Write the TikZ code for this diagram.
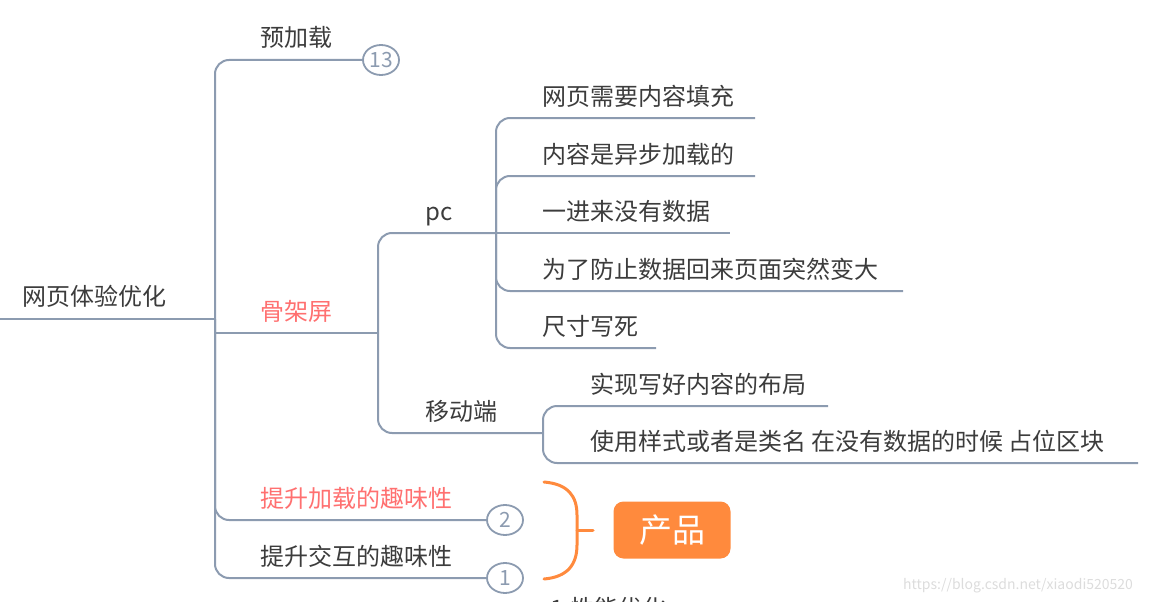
\documentclass[tikz,border=0pt]{standalone}
\usepackage{fontspec}
\setmainfont{Noto Sans CJK SC}
\usetikzlibrary{shapes.geometric, positioning, calc}
\definecolor{branchline}{RGB}{140, 155, 176}
\definecolor{topictext}{RGB}{60, 60, 60}
\definecolor{accentred}{RGB}{255, 112, 112}
\definecolor{productorange}{RGB}{255, 138, 61}
\definecolor{markgray}{RGB}{220, 220, 220}

\begin{document}
\begin{tikzpicture}[
    x=1pt, y=-1pt,
    topic/.style={inner sep=0pt, anchor=base west, text=topictext, font=\fontsize{24}{28}\selectfont},
    hot/.style={topic, text=accentred},
    branch/.style={draw=branchline, line width=2pt, rounded corners=14pt},
    count/.style={ellipse, draw=branchline, line width=1.8pt, fill=white, minimum width=36pt, minimum height=30pt, inner sep=0pt, text=branchline, font=\fontsize{21}{24}\selectfont},
    product/.style={rectangle, rounded corners=10pt, fill=productorange, text=white, minimum width=117pt, minimum height=57pt, font=\fontsize{33}{36}\selectfont}
]
    \clip (0,0) rectangle (1154,602);

    % junctions and free line ends
    \coordinate (rootL) at (0,319);
    \coordinate (j0) at (215,319);
    \coordinate (jgj) at (378,333);
    \coordinate (jpc) at (496,233);
    \coordinate (jyd) at (543,433);
    \coordinate (e1) at (755,118);
    \coordinate (e2) at (755,176);
    \coordinate (e3) at (730,233);
    \coordinate (e4) at (903,291);
    \coordinate (e5) at (656,348);
    \coordinate (f1) at (828,406);
    \coordinate (f2) at (1138,463);

    \node (root) [topic] at (22,305) {网页体验优化};
    \node (yjz) [topic] at (260,47) {预加载};
    \node (gjp) [hot] at (260,320) {骨架屏};
    \node (pc) [topic] at (425,220) {pc};
    \node (ydd) [topic] at (425,420) {移动端};
    \node (pc1) [topic] at (542,105) {网页需要内容填充};
    \node (pc2) [topic] at (542,163) {内容是异步加载的};
    \node (pc3) [topic] at (542,220) {一进来没有数据};
    \node (pc4) [topic] at (542,278) {为了防止数据回来页面突然变大};
    \node (pc5) [topic] at (542,335) {尺寸写死};
    \node (yd1) [topic] at (590,393) {实现写好内容的布局};
    \node (yd2) [topic] at (590,450) {使用样式或者是类名 在没有数据的时候 占位区块};
    \node (jzqw) [hot] at (260,507) {提升加载的趣味性};
    \node (jhqw) [topic] at (260,565) {提升交互的趣味性};
    \node (xnyh) [topic] at (550,617) {1.性能优化};

    \node (c13) [count] at (381,60) {13};
    \node (c2) [count] at (505,520) {2};
    \node (c1) [count] at (505,578) {1};

    \draw [branch] (rootL) -- (j0);
    \draw [branch] (j0) |- (c13);
    \draw [branch, sharp corners] (j0) |- (jgj);
    \draw [branch] (j0) |- (c2);
    \draw [branch] (j0) |- (c1);

    \draw [branch] (jgj) |- (jpc);
    \draw [branch] (jgj) |- (jyd);

    \draw [branch] (jpc) |- (e1);
    \draw [branch] (jpc) |- (e2);
    \draw [branch] (jpc) -- (e3);
    \draw [branch] (jpc) |- (e4);
    \draw [branch] (jpc) |- (e5);

    \draw [branch] (jyd) |- (f1);
    \draw [branch] (jyd) |- (f2);

    % bracket to the product box
    \coordinate (bt) at (544,482);
    \coordinate (bb) at (544,579);
    \coordinate (bm) at (577,530);
    \node (prod) [product] at (672,530) {产品};
    \draw [productorange, line width=3pt, line cap=round] (bt) .. controls (568,484) and (577,496) .. (577,515) -- (577,545) .. controls (577,564) and (568,577) .. (bb);
    \draw [productorange, line width=3pt, line cap=round] (bm) -- ++(16,0);

    \node (mark) [anchor=base west, inner sep=0pt, text=markgray, font=\fontsize{14}{16}\selectfont] at (903,589) {https://blog.csdn.net/xiaodi520520};
\end{tikzpicture}
\end{document}
